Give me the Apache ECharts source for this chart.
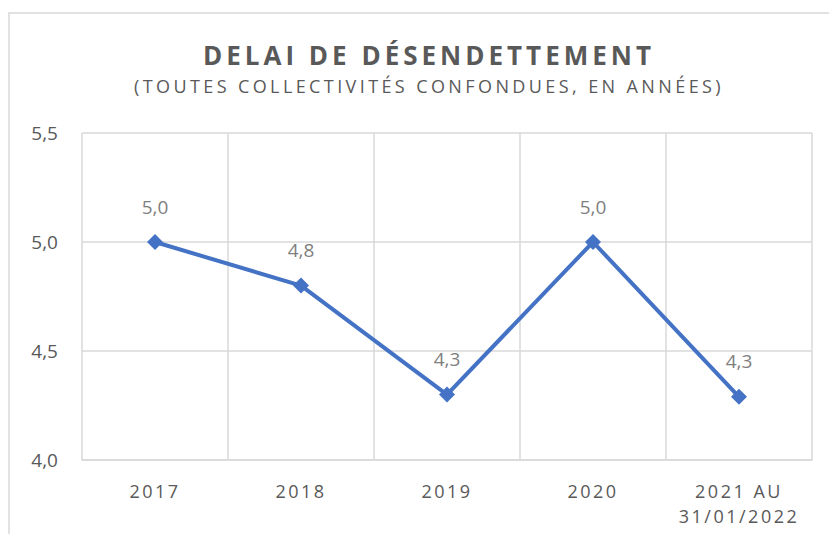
<!DOCTYPE html>
<html>
<head>
<meta charset="utf-8">
<script src="https://cdn.jsdelivr.net/npm/echarts@6/dist/echarts.min.js"></script>
<style>
  html, body { margin: 0; padding: 0; background: #fff; }
  #chart { width: 829px; height: 534px; }
</style>
</head>
<body>
<div id="chart"></div>
<script>
const categories = ["2017", "2018", "2019", "2020", "2021 AU\n31/01/2022"];
const delai = [5.0, 4.8, 4.3, 5.0, 4.29];
const yTicks = [4.0, 4.5, 5.0, 5.5];

const titleText = "DELAI DE DÉSENDETTEMENT";
const subText = "(TOUTES COLLECTIVITÉS CONFONDUES, EN ANNÉES)";

const fmt = v => v.toFixed(1).replace(".", ",");

var chart = echarts.init(document.getElementById("chart"), null, { renderer: "svg" });
var option = {
  animation: false,
  backgroundColor: "#fff",
  graphic: [
    {
      type: "rect",
      shape: { x: 9, y: 13, width: 900, height: 600 },
      style: { fill: "none", stroke: "#d9d9d9", lineWidth: 1.5 },
      silent: true
    }
  ],
  title: {
    text: titleText,
    subtext: subText,
    left: 424,
    textAlign: "center",
    top: 37,
    itemGap: 9,
    textStyle: {
      fontFamily: "Open Sans",
      fontWeight: "bold",
      fontSize: 26,
      color: "#595959"
    },
    subtextStyle: {
      fontFamily: "Open Sans",
      fontSize: 18,
      color: "#595959"
    }
  },
  grid: { left: 82, right: 17, top: 133, bottom: 74 },
  xAxis: {
    type: "category",
    data: categories,
    boundaryGap: true,
    axisLine: { lineStyle: { color: "#d9d9d9", width: 1.5 } },
    axisTick: { show: false },
    splitLine: { show: true, lineStyle: { color: "#d9d9d9", width: 1.5 } },
    axisLabel: {
      margin: 18,
      fontFamily: "Open Sans",
      fontSize: 18,
      lineHeight: 25,
      color: "#595959",
      interval: 0
    }
  },
  yAxis: {
    type: "value",
    min: yTicks[0],
    max: yTicks[yTicks.length - 1],
    interval: 0.5,
    axisLine: { show: false },
    axisTick: { show: false },
    splitLine: { lineStyle: { color: "#d9d9d9", width: 1.5 } },
    axisLabel: {
      margin: 24,
      fontFamily: "Open Sans",
      fontSize: 19,
      color: "#595959",
      formatter: v => fmt(v)
    }
  },
  series: [
    {
      type: "line",
      data: delai,
      symbol: "diamond",
      symbolSize: 16,
      lineStyle: { color: "#4472c4", width: 4 },
      itemStyle: { color: "#4472c4" },
      label: {
        show: true,
        position: "top",
        distance: 18,
        fontFamily: "Open Sans",
        fontSize: 19,
        color: "#7f7f7f",
        formatter: p => fmt(p.value)
      }
    }
  ]
};
option && chart.setOption(option);

// spaced-out caps like the original (svg text gets a letter-spacing attribute)
function spaceLetters() {
  var spacing = {};
  spacing[titleText] = "4px";
  spacing[subText] = "3.4px";
  categories.forEach(c => c.split("\n").forEach(s => { spacing[s] = "2.5px"; }));
  document.querySelectorAll("#chart svg text").forEach(t => {
    var s = spacing[t.textContent];
    if (s) t.setAttribute("letter-spacing", s);
  });
}
spaceLetters();
chart.on("finished", spaceLetters);
</script>
</body>
</html>
